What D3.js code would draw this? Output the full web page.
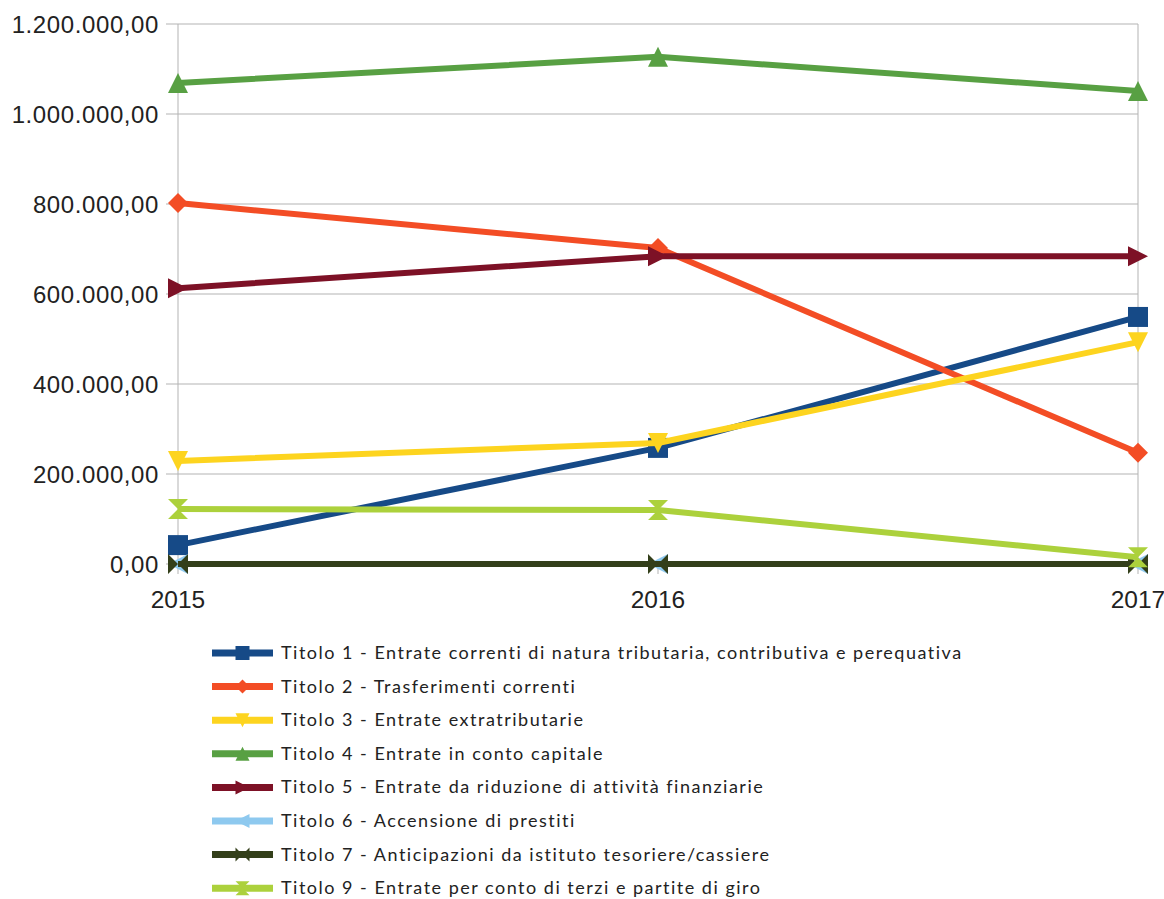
<!DOCTYPE html>
<html>
<head>
<meta charset="utf-8">
<script src="https://cdn.jsdelivr.net/npm/d3@7"></script>
<style>
  body { margin: 0; background: #fff; }
  svg { display: block; }
</style>
</head>
<body>
<div id="chart"></div>
<script>
// Data
const years = ["2015", "2016", "2017"];
const seriesNames = [
  "Titolo 1 - Entrate correnti di natura tributaria, contributiva e perequativa",
  "Titolo 2 - Trasferimenti correnti",
  "Titolo 3 - Entrate extratributarie",
  "Titolo 4 - Entrate in conto capitale",
  "Titolo 5 - Entrate da riduzione di attività finanziarie",
  "Titolo 6 - Accensione di prestiti",
  "Titolo 7 - Anticipazioni da istituto tesoriere/cassiere",
  "Titolo 9 - Entrate per conto di terzi e partite di giro"
];
const titolo1 = [42000, 258000, 549000];
const titolo2 = [802000, 702000, 247000];
const titolo3 = [229000, 269000, 493000];
const titolo4 = [1069000, 1127000, 1051000];
const titolo5 = [613000, 684000, 684000];
const titolo6 = [0, 0, 0];
const titolo7 = [0, 0, 0];
const titolo9 = [122000, 120000, 15000];
const yTicks = [0, 200000, 400000, 600000, 800000, 1000000, 1200000];

const colors = ["#164a87", "#f34d25", "#fdd41f", "#58a043", "#7d1126", "#8ec9ef", "#333f1a", "#acd13c"];
const markers = ["square", "diamond", "down", "up", "right", "left", "bowtie", "hourglass"];
const allValues = [titolo1, titolo2, titolo3, titolo4, titolo5, titolo6, titolo7, titolo9];

const width = 1164, height = 899;
const svg = d3.select("#chart").append("svg")
  .attr("width", width).attr("height", height);

const x = d3.scalePoint().domain(years).range([178, 1138]);
const y = d3.scaleLinear().domain([0, 1200000]).range([564, 24]);

const fmt = v => {
  const s = d3.format(",.2f")(v);
  return s.replace(/,/g, "#").replace(".", ",").replace(/#/g, ".");
};

// gridlines
svg.append("g").selectAll("line").data(yTicks).enter().append("line")
  .attr("x1", 166).attr("x2", 1138)
  .attr("y1", d => y(d)).attr("y2", d => y(d))
  .attr("stroke", "#b3b3b3").attr("stroke-width", 1);

// vertical axis lines
svg.append("line").attr("x1", 178).attr("x2", 178).attr("y1", 24).attr("y2", 574)
  .attr("stroke", "#b3b3b3");
svg.append("line").attr("x1", 1138).attr("x2", 1138).attr("y1", 24).attr("y2", 574)
  .attr("stroke", "#b3b3b3");
svg.append("line").attr("x1", x("2016")).attr("x2", x("2016")).attr("y1", 564).attr("y2", 574)
  .attr("stroke", "#b3b3b3");

// y labels
svg.append("g").selectAll("text").data(yTicks).enter().append("text")
  .attr("x", 159).attr("y", d => y(d) + 9)
  .attr("text-anchor", "end")
  .attr("font-family", "Liberation Sans, Arial, sans-serif")
  .attr("font-size", 24)
  .attr("letter-spacing", 0.6)
  .attr("fill", "#222")
  .text(fmt);

// x labels
svg.append("g").selectAll("text").data(years).enter().append("text")
  .attr("x", d => x(d)).attr("y", 608)
  .attr("text-anchor", "middle")
  .attr("font-family", "Liberation Sans, Arial, sans-serif")
  .attr("font-size", 24.5).attr("fill", "#222")
  .text(d => d);

function markerPath(type, s) {
  const h = s / 2;
  switch (type) {
    case "square": return `M${-h},${-h}H${h}V${h}H${-h}Z`;
    case "diamond": return `M0,${-h}L${h},0L0,${h}L${-h},0Z`;
    case "down": return `M${-h},${-h}H${h}L0,${h}Z`;
    case "up": return `M${-h},${h}H${h}L0,${-h}Z`;
    case "right": return `M${-h},${-h}L${h},0L${-h},${h}Z`;
    case "left": return `M${h},${-h}L${-h},0L${h},${h}Z`;
    case "bowtie": return `M${-h},${-h}L0,0L${-h},${h}Z M${h},${-h}L0,0L${h},${h}Z`;
    case "hourglass": return `M${-h},${-h}H${h}L0,0Z M${-h},${h}H${h}L0,0Z`;
  }
}

const line = d3.line().x((d, i) => x(years[i])).y(d => y(d));

allValues.forEach((vals, k) => {
  const g = svg.append("g");
  g.append("path").datum(vals)
    .attr("d", line)
    .attr("fill", "none")
    .attr("stroke", colors[k])
    .attr("stroke-width", 6)
    .attr("stroke-linejoin", "round");
  g.selectAll("path.m").data(vals).enter().append("path")
    .attr("class", "m")
    .attr("transform", (d, i) => `translate(${x(years[i])},${y(d)})`)
    .attr("d", markerPath(markers[k], 20))
    .attr("fill", colors[k]);
});

// legend
const legend = svg.append("g");
seriesNames.forEach((name, k) => {
  const ly = 653 + k * 33.6;
  legend.append("line")
    .attr("x1", 212).attr("x2", 273).attr("y1", ly).attr("y2", ly)
    .attr("stroke", colors[k]).attr("stroke-width", 7);
  legend.append("path")
    .attr("transform", `translate(242.5,${ly})`)
    .attr("d", markerPath(markers[k], 14))
    .attr("fill", colors[k]);
  legend.append("text")
    .attr("x", 281).attr("y", ly + 6)
    .attr("font-family", "Lato, sans-serif")
    .attr("font-size", 18)
    .attr("letter-spacing", 1.5)
    .attr("fill", "#222")
    .text(name);
});
</script>
</body>
</html>
